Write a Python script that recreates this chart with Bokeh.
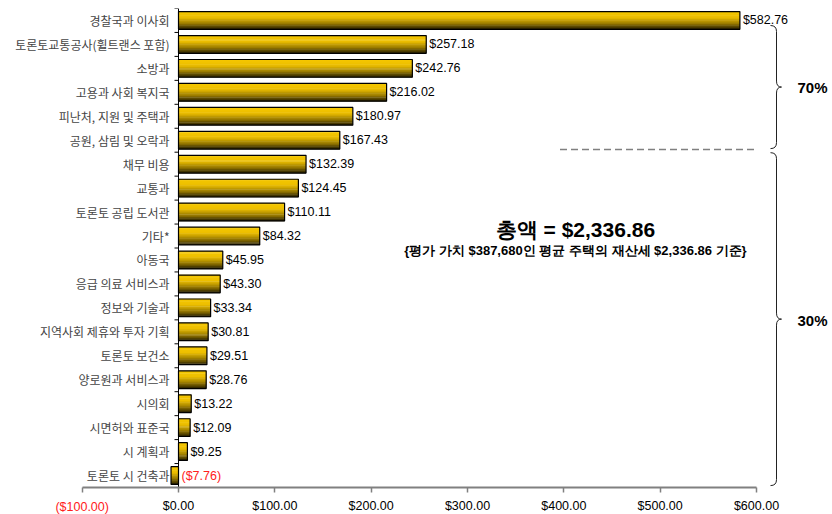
from bokeh.plotting import figure
from bokeh.models import Range1d, FixedTicker, CustomJSTickFormatter
from bokeh.core.properties import value
from bokeh.embed import file_html
from bokeh.resources import INLINE

# ---------------- data ----------------
categories = ["경찰국과 이사회", "토론토교통공사(휠트랜스 포함)", "소방과", "고용과 사회 복지국",
              "피난처, 지원 및 주택과", "공원, 삼림 및 오락과", "채무 비용", "교통과",
              "토론토 공립 도서관", "기타*", "아동국", "응급 의료 서비스과", "정보와 기술과",
              "지역사회 제휴와 투자 기획", "토론토 보건소", "양로원과 서비스과", "시의회",
              "시면허와 표준국", "시 계획과", "토론토 시 건축과"]
values = [582.76, 257.18, 242.76, 216.02, 180.97, 167.43, 132.39, 124.45, 110.11, 84.32,
          45.95, 43.30, 33.34, 30.81, 29.51, 28.76, 13.22, 12.09, 9.25, -7.76]
x_ticks = [-100, 0, 100, 200, 300, 400, 500, 600]
group_labels = ["70%", "30%"]
total_title = "총액 = $2,336.86"
total_sub = "{평가 가치 $387,680인 평균 주택의 재산세 $2,336.86 기준}"

n = len(categories)
ys = list(range(n))
labels = [("$%.2f" % v) if v >= 0 else ("($%.2f)" % abs(v)) for v in values]
label_colors = ["black" if v >= 0 else "#FF2020" for v in values]

# ---------------- figure ----------------
K = 578 / 600.0        # px per dollar
ROW = 479 / n          # px per category row
axis_y = n - 0.5       # data position of the x axis
p = figure(width=832, height=514, output_backend="svg", toolbar_location=None,
           x_range=Range1d(-178 / K, 654 / K),
           y_range=Range1d(axis_y + 27 / ROW, -0.5),
           y_axis_location=None, min_border_left=0, min_border_right=0,
           min_border_top=8, min_border_bottom=0)
p.outline_line_color = None
p.xgrid.grid_line_color = None
p.ygrid.grid_line_color = None
p.background_fill_color = "white"

# x axis (fixed at the bottom of the bars)
ax = p.xaxis[0]
ax.fixed_location = axis_y
ax.bounds = (-100, 600)
ax.ticker = FixedTicker(ticks=x_ticks)
ax.formatter = CustomJSTickFormatter(code="return tick < 0 ? '' : '$' + tick.toFixed(2);")
ax.axis_line_color = "#808080"
ax.axis_line_width = 2
ax.major_tick_line_color = "#808080"
ax.major_tick_line_width = 1.5
ax.major_tick_out = 5
ax.major_tick_in = 0
ax.minor_tick_line_color = None
ax.major_label_text_font = "Liberation Sans"
ax.major_label_text_font_size = "12.5px"
ax.major_label_text_color = "black"
ax.major_label_standoff = 6

# red negative tick label
p.text(x=[x_ticks[0]], y=[axis_y + 19 / ROW], text=["($%.2f)" % abs(x_ticks[0])],
       text_align="center", text_baseline="middle", text_font=value("Liberation Sans"),
       text_font_size="12.5px", text_color="#FF2020")

# gradient bars built from stripes
bar_h = 0.74
N = 14
stops = [(0.0, (246, 200, 0)), (0.35, (236, 190, 0)), (0.7, (150, 120, 0)), (1.0, (40, 32, 0))]

def col(t):
    for (t0, c0), (t1, c1) in zip(stops[:-1], stops[1:]):
        if t <= t1:
            f = (t - t0) / (t1 - t0)
            return "#%02x%02x%02x" % tuple(int(round(a + (b - a) * f)) for a, b in zip(c0, c1))
    return "#%02x%02x%02x" % stops[-1][1]

sh = bar_h / N
for j in range(N):
    t = (j + 0.5) / N
    yc = [y - bar_h / 2 + (j + 0.5) * sh for y in ys]
    p.hbar(y=yc, left=0, right=values, height=sh * 1.35, fill_color=col(t), line_color=None)
p.hbar(y=ys, left=0, right=values, height=bar_h, fill_color=None, line_color="black", line_width=1.2)

# y axis line and ticks (between categories)
bounds = [i - 0.5 for i in range(n + 1)]
p.segment(x0=[0], y0=[-0.5], x1=[0], y1=[axis_y], line_color="black", line_width=1)
p.segment(x0=[-4 / K] * len(bounds), y0=bounds, x1=[0] * len(bounds), y1=bounds,
          line_color="black", line_width=1)

# category labels
p.text(x=[0] * n, y=ys, text=categories, x_offset=-9, text_align="right",
       text_baseline="middle", text_font=value("Noto Sans CJK KR"), text_font_size="12px",
       text_color="#454545")
# value labels
p.text(x=[max(v, 0) for v in values], y=ys, text=labels, x_offset=3, text_align="left",
       text_baseline="middle", text_font=value("Liberation Sans"), text_font_size="12.5px",
       text_color=label_colors)

# dashed separator
p.segment(x0=[396], y0=[5.39], x1=[600], y1=[5.39], line_color="#808080", line_width=1.5,
          line_dash="7 4")

# braces
def brace(ytop, ybot, xs=(770, 776, 781)):
    x0, xv, xc = [(v - 178) / K for v in xs]
    ym = (ytop + ybot) / 2
    q = 0.25
    p.quadratic(x0=[x0, xv, xc, xv], y0=[ytop, ym - q, ym, ybot - q],
                x1=[xv, xc, xv, x0], y1=[ytop + q, ym, ym + q, ybot],
                cx=[xv, xv, xv, xv], cy=[ytop, ym, ym, ybot], line_color="#222222", line_width=1)
    p.segment(x0=[xv, xv], y0=[ytop + q, ym + q], x1=[xv, xv], y1=[ym - q, ybot - q],
              line_color="#222222", line_width=1)
    return ym

m1 = brace(0.21, 5.35)
m2 = brace(5.52, 19.42)
p.text(x=[(812 - 178) / K] * 2, y=[m1, m2 + 0.05], text=group_labels, text_align="center",
       text_baseline="middle", text_font=value("Liberation Sans"), text_font_size="15px",
       text_font_style="bold", text_color="black")

# total texts
p.text(x=[412], y=[8.73], text=[total_title], text_align="center", text_baseline="middle",
       text_font=value("Liberation Sans"), text_font_size="21px", text_font_style="bold",
       text_color="black")
p.text(x=[412], y=[9.62], text=[total_sub], text_align="center", text_baseline="middle",
       text_font=value("Liberation Sans"), text_font_size="13px", text_font_style="bold",
       text_color="black")

open("out.html", "w").write(file_html(p, INLINE))
